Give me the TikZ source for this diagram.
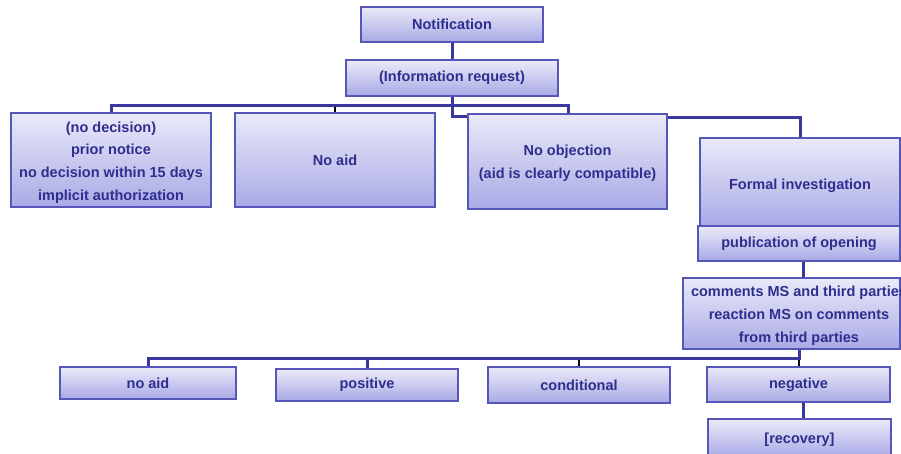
\documentclass[tikz,border=0pt]{standalone}
\usepackage{fontspec}
\setmainfont{Liberation Sans}
\usetikzlibrary{calc}
\begin{document}
\begin{tikzpicture}[x=1pt,y=-1pt,
  box/.style={draw=boxline, line width=1.1pt, top color=boxtop, bottom color=boxbot,
    minimum width=#1, inner sep=0pt, text=txt, font=\bfseries\fontsize{14.5}{22.8}\selectfont, align=center},
  txtnode/.style={text=txt, font=\bfseries\fontsize{14.5}{22.8}\selectfont, align=center, inner sep=0pt},
  conn/.style={draw=conncol, line width=3pt},
  thin/.style={draw=black, line width=1.6pt}]
\definecolor{boxline}{HTML}{5656B8}
\definecolor{boxtop}{HTML}{EAEAF9}
\definecolor{boxbot}{HTML}{A9A9E6}
\definecolor{txt}{HTML}{2E2E8E}
\definecolor{conncol}{HTML}{3838A0}
\useasboundingbox (0,0) rectangle (901,453);

\node[box=182pt, minimum height=35pt] (notif) at (452,24.5) {Notification};
\node[box=212pt, minimum height=36pt] (info) at (452,78) {(Information request)};
\node[box=200pt, minimum height=94pt] (b1) at (111,160) {};
\node[txtnode] (b1text) at (111,162.5) {(no decision)\\prior notice\\no decision within 15 days\\implicit authorization};
\node[box=200pt, minimum height=94pt] (noaid) at (335,160) {No aid};
\node[box=199pt, minimum height=95pt] (noobj) at (567.5,161.5) {};
\node[txtnode] (noobjtext) at (567.5,163) {No objection\\(aid is clearly compatible)};
\node[box=200pt, minimum height=88pt] (formal) at (800,182) {};
\node[txtnode] (formaltext) at (800,186) {Formal investigation};
\node[box=202pt, minimum height=35pt] (publ) at (799,243.5) {publication of opening};
\node[box=217pt, minimum height=71pt] (comments) at (791.5,313.5) {};
\node[txtnode] (comtext) at (799,315.5) {comments MS and third parties\\reaction MS on comments\\from third parties};
\node[box=176pt, minimum height=32pt] (noaid2) at (148,383) {no aid};
\node[box=182pt, minimum height=32pt] (positive) at (367,385) {positive};
\node[box=182pt, minimum height=36pt] (cond) at (579,385) {conditional};
\node[box=183pt, minimum height=35pt] (neg) at (798.5,384.5) {negative};
\node[box=183pt, minimum height=38pt, text depth=0pt] (rec) at (799.5,438) {[recovery]};

% top level connectors
\coordinate (busL) at (111,105);
\coordinate (busR) at (568,105);
\coordinate (j1) at (452,116);
\coordinate (j2) at (667,117);
\draw[conn] (notif.south) -- (info.north);
\draw[conn] (b1.north) -- (b1.north |- busL) -- (busR) -- (busR |- noobj.north);
\draw[conn] (info.south) -- (j1) -- (j1 -| noobj.west);
\draw[thin] (noaid.north) -- ($(noaid.north |- busL)+(0,1.5)$);
\draw[conn] (j2 -| noobj.east) -| (formal.north);

% formal investigation chain
\coordinate (p1) at (803,261);
\draw[conn] (p1 |- publ.south) -- (p1 |- comments.north);
\coordinate (bus2L) at (148,358);
\coordinate (bus2R) at (799,358);
\draw[conn] (bus2R |- comments.south) -- (bus2R) -- (bus2L) -- (noaid2.north);
\draw[conn] (positive.north) -- (positive.north |- bus2L);
\draw[thin] (cond.north) -- ($(cond.north |- bus2L)+(0,1.5)$);
\draw[thin] (bus2R |- neg.north) -- ($(bus2R)+(0,1.5)$);
\coordinate (p2) at (803,402);
\draw[conn] (p2 |- neg.south) -- (p2 |- rec.north);
\end{tikzpicture}
\end{document}
